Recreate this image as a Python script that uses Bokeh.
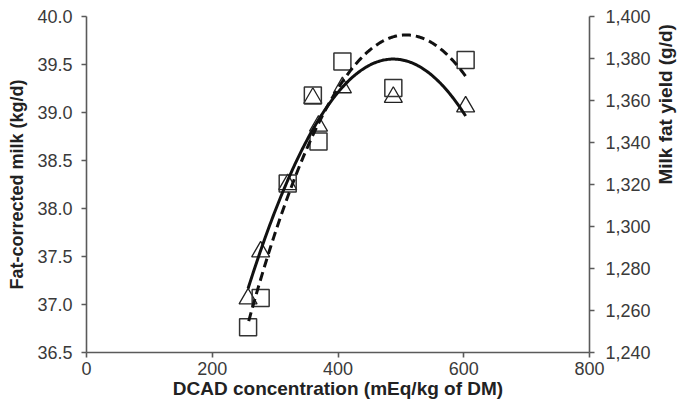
import math
import numpy as np
from bokeh.plotting import figure
from bokeh.models import Range1d, LinearAxis, FixedTicker, NumeralTickFormatter
from bokeh.embed import file_html
from bokeh.resources import INLINE

# ---- data ----
dcad = [257, 277, 320, 360, 369, 407, 488, 603]          # mEq/kg of DM
fcm = [37.06, 37.55, 38.25, 39.15, 38.86, 39.26, 39.16, 39.06]   # triangles, kg/d
fat_yield = [1252, 1266, 1320.5, 1362.4, 1340.5, 1378.6, 1366, 1379.3]  # squares, g/d

# quadratic fits (intercept, linear, quadratic) and their x-extent
fcm_fit = (28.89, 0.04372, -4.48e-5)
fcm_fit_range = (257, 603)
fat_fit = (828.62, 2.2149, -2.18e-3)
fat_fit_range = (258, 604)

x_ticks = [0, 200, 400, 600, 800]
left_ticks = [36.5, 37.0, 37.5, 38.0, 38.5, 39.0, 39.5, 40.0]
right_ticks = [1240, 1260, 1280, 1300, 1320, 1340, 1360, 1380, 1400]

AX = "#5a5a5a"
TXT = "#3a3a3a"
LBL = "#222222"
FONT = "Liberation Sans"

p = figure(title=None, frame_width=503, frame_height=336,
           output_backend="svg", toolbar_location=None,
           x_range=Range1d(0, 800), y_range=Range1d(36.5, 40.0),
           min_border_left=86, min_border_right=85, min_border_top=16,
           min_border_bottom=52)
p.extra_y_ranges = {"fat": Range1d(1240, 1400)}
p.xgrid.visible = False
p.ygrid.visible = False
p.outline_line_color = None
p.background_fill_color = "white"
p.border_fill_color = "white"

right = LinearAxis(y_range_name="fat")
p.add_layout(right, "right")

def style(ax, ticks, fmt):
    ax.ticker = FixedTicker(ticks=ticks)
    ax.formatter = NumeralTickFormatter(format=fmt)
    ax.axis_line_color = AX
    ax.axis_line_width = 1.6
    ax.major_tick_line_color = AX
    ax.major_tick_line_width = 1.6
    ax.major_tick_out = 5
    ax.major_tick_in = 0
    ax.minor_tick_out = 0
    ax.minor_tick_in = 0
    ax.major_label_text_font = FONT
    ax.major_label_text_font_size = "18px"
    ax.major_label_text_color = TXT
    ax.axis_label_text_font = FONT
    ax.axis_label_text_font_style = "bold"
    ax.axis_label_text_color = LBL

xa = p.xaxis[0]
style(xa, x_ticks, "0")
xa.axis_label = "DCAD concentration (mEq/kg of DM)"
xa.axis_label_text_font_size = "19px"
xa.major_label_standoff = 4
xa.axis_label_standoff = 0

ya = p.yaxis[0]
style(ya, left_ticks, "0.0")
ya.axis_label = "Fat-corrected milk (kg/d)"
ya.axis_label_text_font_size = "18px"
ya.major_label_standoff = 9
ya.axis_label_standoff = 7

style(right, right_ticks, "0,0")
right.axis_label = "Milk fat yield (g/d)"
right.axis_label_text_font_size = "19px"
right.major_label_standoff = 11
right.axis_label_standoff = 12
try:
    right.axis_label_orientation = math.pi / 2
except Exception:
    pass

# markers
p.scatter(dcad, fcm, marker="triangle", size=18, fill_alpha=0,
          line_color="#222222", line_width=1.3)
p.scatter(dcad, fat_yield, marker="square", size=17, fill_alpha=0,
          line_color="#333333", line_width=1.5, y_range_name="fat")

# fitted curves
xs1 = np.linspace(fcm_fit_range[0], fcm_fit_range[1], 200)
ys1 = fcm_fit[0] + fcm_fit[1] * xs1 + fcm_fit[2] * xs1 ** 2
p.line(xs1, ys1, line_color="#111111", line_width=3)

xs2 = np.linspace(fat_fit_range[0], fat_fit_range[1], 200)
ys2 = fat_fit[0] + fat_fit[1] * xs2 + fat_fit[2] * xs2 ** 2
p.line(xs2, ys2, line_color="#111111", line_width=3, line_dash="9 5",
       y_range_name="fat")

open("out.html", "w").write(file_html(p, INLINE))
